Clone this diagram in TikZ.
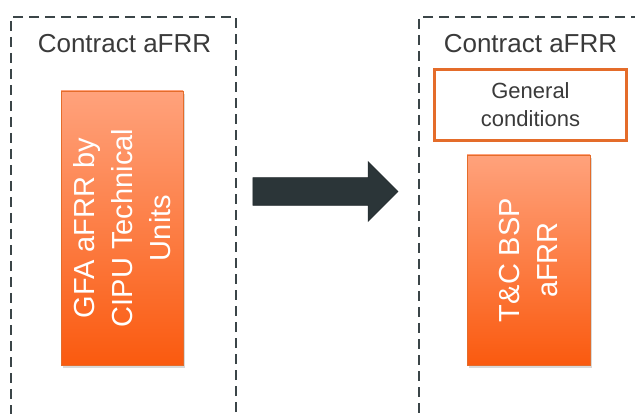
\documentclass[tikz,border=0pt]{standalone}
\usepackage{fontspec}
\setmainfont{Liberation Sans}
\usetikzlibrary{shapes.arrows,shadows}

\definecolor{framegray}{RGB}{59,69,72}
\definecolor{textgray}{RGB}{58,58,58}
\definecolor{arrowgray}{RGB}{43,53,56}
\definecolor{orangetop}{RGB}{255,162,124}
\definecolor{orangebot}{RGB}{250,90,15}
\definecolor{orangeline}{RGB}{228,108,42}

\begin{document}
\begin{tikzpicture}[x=1pt,y=-1pt,
    frame/.style={draw=framegray, line width=2pt, dash pattern=on 10pt off 6pt},
    title/.style={text=textgray, font=\fontsize{26}{31}\selectfont, anchor=base},
    unitbox/.style={draw=orangeline, line width=0.8pt, top color=orangetop, bottom color=orangebot,
        drop shadow={shadow xshift=2pt, shadow yshift=-3pt, opacity=0.3}},
    vlabel/.style={text=white, rotate=90, align=center, font=\fontsize{29}{38}\selectfont},
    condbox/.style={draw=orangeline, line width=3pt, fill=white, text=textgray, align=center,
        font=\fontsize{22}{28}\selectfont}]
    \useasboundingbox (0,0) rectangle (635,414);

    % contracts
    \draw (123.5,230) node [frame, minimum width=225pt, minimum height=426pt] (left) {};
    \draw (540,230) node [frame, minimum width=242pt, minimum height=426pt] (right) {};
    \draw (124.5,53) node [title] (lefttitle) {Contract aFRR};
    \draw (530.5,53) node [title] (righttitle) {Contract aFRR};

    % before
    \draw (122,228) node [unitbox, minimum width=122pt, minimum height=274pt] (gfa) {};
    \draw (gfa.center) node [vlabel] (gfatext) {GFA aFRR by\\CIPU Technical\\Units};

    % after
    \draw (530.5,105) node [condbox, minimum width=192pt, minimum height=71pt] (cond) {General\\conditions};
    \draw (528.5,260) node [unitbox, minimum width=123pt, minimum height=210pt] (tc) {};
    \draw (tc.center) node [vlabel] (tctext) {T\&C BSP\\aFRR};

    \draw (318.5,191.5) node [single arrow, fill=arrowgray, draw=arrowgray!80!black, line width=0.6pt,
        inner xsep=0pt, inner ysep=13.5pt, minimum height=145pt, minimum width=59pt,
        single arrow head extend=16pt] (shift) {};
\end{tikzpicture}
\end{document}
